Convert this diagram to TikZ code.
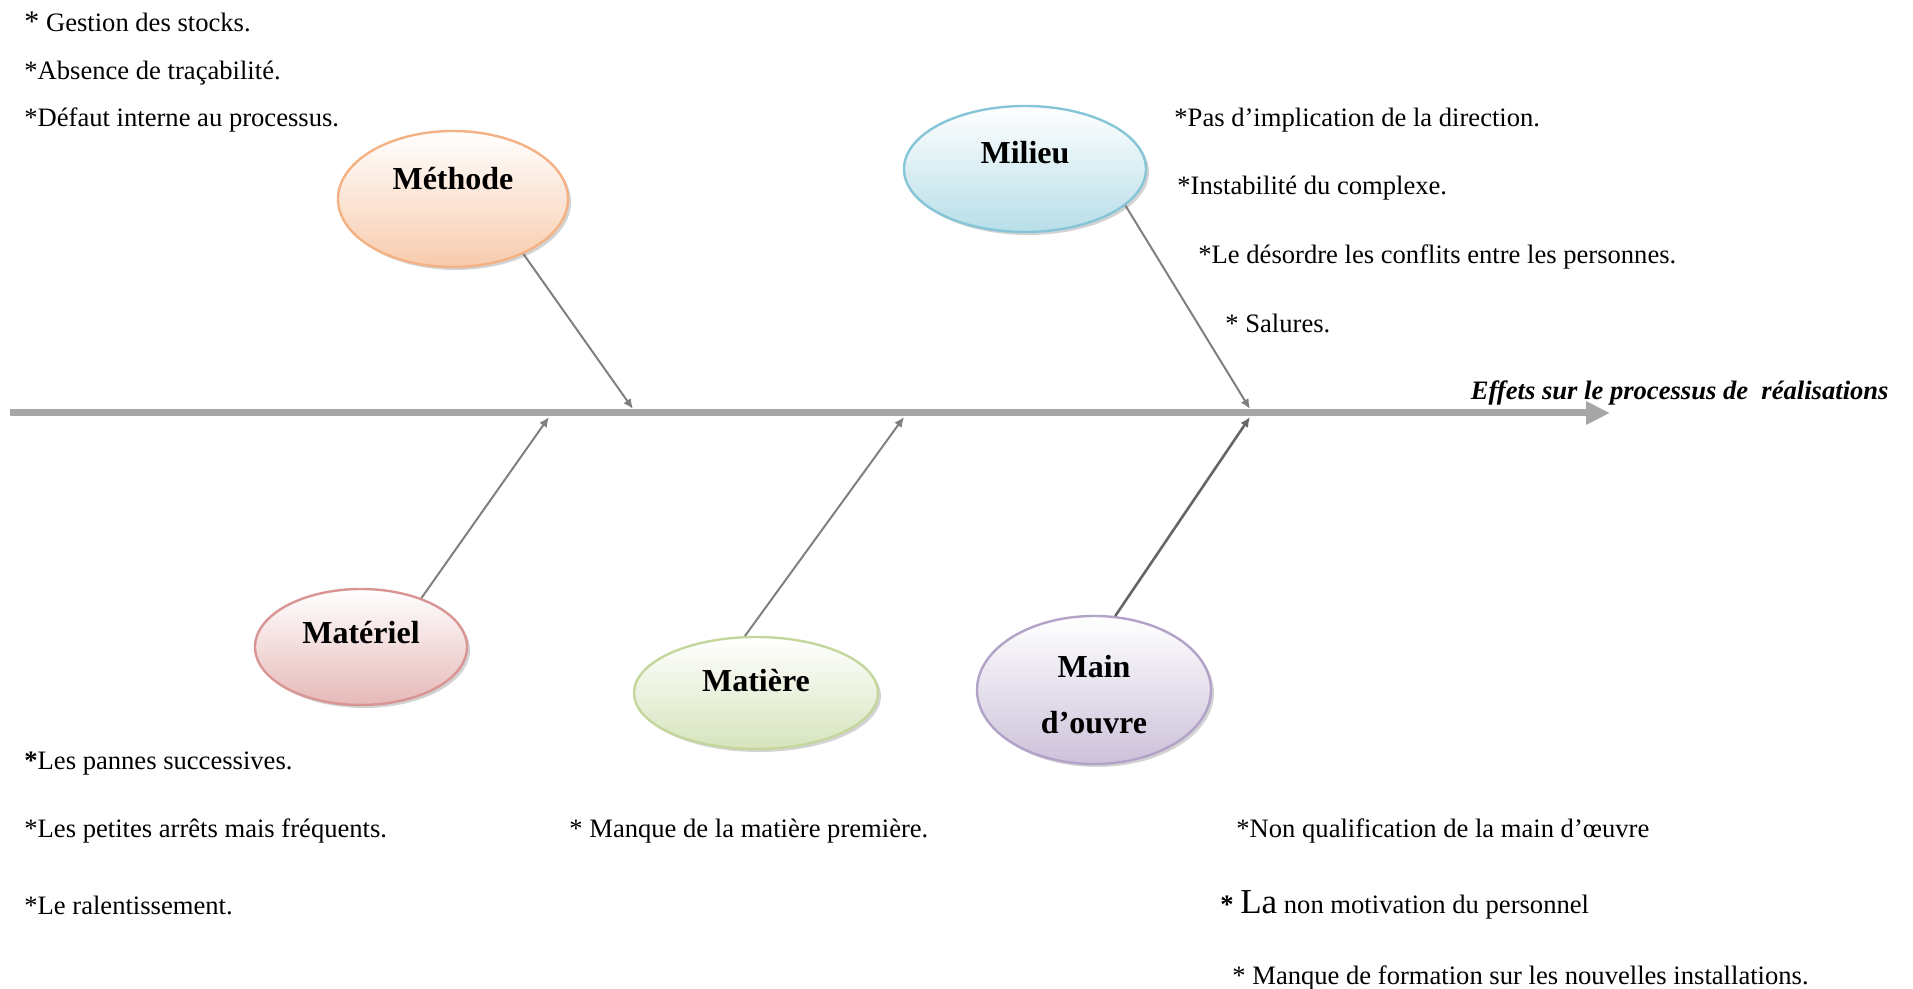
\documentclass[tikz,border=0pt]{standalone}
\usepackage{fontspec}
\setmainfont{Liberation Serif}
\usetikzlibrary{arrows.meta, shapes.geometric, shadows}
\usepackage{xcolor}

\definecolor{methodeline}{HTML}{F4B183}
\definecolor{methodefill}{HTML}{F8CBAD}
\definecolor{milieuline}{HTML}{86C5D8}
\definecolor{milieufill}{HTML}{B7DEE8}
\definecolor{materielline}{HTML}{D99594}
\definecolor{materielfill}{HTML}{E6B9B8}
\definecolor{matiereline}{HTML}{C3D69B}
\definecolor{matierefill}{HTML}{D7E4BD}
\definecolor{mainline}{HTML}{B3A2C7}
\definecolor{mainfill}{HTML}{CCC1DA}
\definecolor{spinegray}{HTML}{A6A6A6}

\begin{document}
\begin{tikzpicture}[x=0.5pt, y=-0.5pt,
    cause/.style={ellipse, line width=1.2pt, inner sep=0pt, top color=white,
      drop shadow={shadow xshift=1.5pt, shadow yshift=-1.5pt, opacity=.35}},
    causetext/.style={font=\fontsize{16}{19}\selectfont\bfseries, inner sep=0pt, align=center},
    itemtext/.style={anchor=west, inner sep=0pt, font=\fontsize{13.3}{15}\selectfont},
    branch/.style={draw=gray, line width=1pt, -{Latex[length=5pt,width=4.5pt]}},
  ]
      \useasboundingbox (0,0) rectangle (1913,989);

      % arete principale
      \coordinate (spine-s) at (10,413);
      \coordinate (spine-e) at (1610,413);
      \draw[spinegray, line width=3.5pt, -{Triangle[length=12pt,width=11pt]}] (spine-s) -- (spine-e);
      \node[anchor=east, inner sep=0pt, font=\fontsize{13.3}{15}\selectfont\bfseries\itshape] (effets) at (1889,393) {Effets sur le processus de\ \ réalisations};

      % causes
      \node[cause, draw=methodeline, bottom color=methodefill, minimum width=115pt, minimum height=68pt] (methode) at (453,199) {};
      \node[causetext] (methode-t) at ([yshift=10pt]methode.center) {Méthode};

      \node[cause, draw=milieuline, bottom color=milieufill, minimum width=121pt, minimum height=63pt] (milieu) at (1025,169) {};
      \node[causetext] (milieu-t) at ([yshift=8pt]milieu.center) {Milieu};

      \node[cause, draw=materielline, bottom color=materielfill, minimum width=106pt, minimum height=58pt] (materiel) at (361,647) {};
      \node[causetext] (materiel-t) at ([yshift=7pt]materiel.center) {Matériel};

      \node[cause, draw=matiereline, bottom color=matierefill, minimum width=122pt, minimum height=56pt] (matiere) at (756,693) {};
      \node[causetext] (matiere-t) at ([yshift=6pt]matiere.center) {Matière};

      \node[cause, draw=mainline, bottom color=mainfill, minimum width=117pt, minimum height=74pt] (main) at (1094,690) {};
      \node[causetext] (main-t) at ([yshift=-2.5pt]main.center) {Main\\[9pt]d’ouvre};

      % aretes secondaires
      \coordinate (e-methode) at (633,409);
      \coordinate (e-milieu) at (1250,409);
      \coordinate (e-materiel) at (549,417);
      \coordinate (e-matiere) at (904,417);
      \coordinate (e-main) at (1250,417);
      \draw[branch] (methode.-38) -- (e-methode);
      \draw[branch] (milieu.-20) -- (e-milieu);
      \draw[branch] (materiel.39) -- (e-materiel);
      \draw[branch] (matiere.101) -- (e-matiere);
      \draw[branch, draw=gray!80!black, line width=1.3pt] (main.74) -- (e-main);

      % methode
      \node[itemtext] (t1) at (24,22) {{\fontsize{15}{15}\selectfont *} Gestion des stocks.};
      \node[itemtext] (t2) at (24,73) {*Absence de traçabilité.};
      \node[itemtext] (t3) at (24,120) {*Défaut interne au processus.};

      % milieu
      \node[itemtext] (t4) at (1174,120) {*Pas d’implication de la direction.};
      \node[itemtext] (t5) at (1177,188) {*Instabilité du complexe.};
      \node[itemtext] (t6) at (1198,257) {*Le désordre les conflits entre les personnes.};
      \node[itemtext] (t7) at (1225,323) {* Salures.};

      % materiel
      \node[itemtext] (t8) at (24,764) {\textbf{*}Les pannes successives.};
      \node[itemtext] (t9) at (24,831) {*Les petites arrêts mais fréquents.};
      \node[itemtext] (t10) at (24,905) {*Le ralentissement.};

      % matiere
      \node[itemtext] (t11) at (569,831) {* Manque de la matière première.};

      % main d'oeuvre
      \node[itemtext] (t12) at (1236,831) {*Non qualification de la main d’œuvre};
      \node[itemtext] (t13) at (1220,905) {\textbf{*} {\fontsize{17.5}{19}\selectfont La} non motivation du personnel};
      \node[itemtext] (t14) at (1232,978) {* Manque de formation sur les nouvelles installations.};
\end{tikzpicture}
\end{document}
